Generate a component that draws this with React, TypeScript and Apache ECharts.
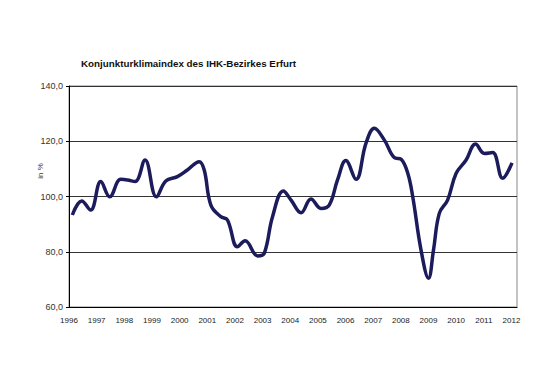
import React, { useEffect, useRef } from "react";
import * as echarts from "echarts";

const titleText = "Konjunkturklimaindex des IHK-Bezirkes Erfurt";
const yAxisName = "in %";
const times = [
  1996.12, 1996.46, 1996.78, 1997.15, 1997.47, 1997.87, 1998.11, 1998.39, 1998.75, 1999.16,
  1999.5, 1999.92, 2000.28, 2000.71, 2000.89, 2001.13, 2001.49, 2001.73, 2002.09, 2002.37,
  2002.82, 2003.06, 2003.36, 2003.75, 2004.03, 2004.39, 2004.75, 2005.11, 2005.41, 2005.71,
  2006.01, 2006.38, 2006.74, 2007.04, 2007.4, 2007.76, 2008.01, 2008.25, 2008.43, 2008.73,
  2009.0, 2009.18, 2009.39, 2009.69, 2010.0, 2010.36, 2010.7, 2011.02, 2011.32, 2011.68, 2012.02,
];
const values = [
  93.3, 98.4, 95.1, 105.4, 99.9, 106.2, 106.0, 105.4, 113.2, 99.9,
  105.6, 107.2, 109.6, 112.6, 109.6, 96.9, 92.7, 91.5, 81.8, 84.0,
  78.5, 79.4, 92.7, 102, 98.7, 94.1, 99.1, 95.7, 96.9, 106,
  113, 106.2, 119.3, 124.7, 120.5, 114.1, 113.5, 108.4, 99.9, 80.6,
  70.4, 80.6, 93.9, 98.7, 108.4, 113.2, 119, 115.6, 115.9, 106.6, 112.2,
];

export default function App() {
  const ref = useRef<HTMLDivElement>(null);
  useEffect(() => {
    if (!ref.current) return;
    const chart = echarts.init(ref.current, undefined, { renderer: "svg" });
    chart.setOption({
      animation: false,
      backgroundColor: "#ffffff",
      title: {
        text: titleText,
        left: 76,
        top: 53,
        textStyle: { fontFamily: "Liberation Sans", fontSize: 9.8, fontWeight: "bold", color: "#111" },
      },
      graphic: [
        {
          type: "text",
          x: 40,
          y: 171,
          rotation: Math.PI / 2,
          style: {
            text: yAxisName,
            fontFamily: "Liberation Sans",
            fontSize: 8,
            fill: "#333",
            textAlign: "center",
            textVerticalAlign: "middle",
          },
        },
      ],
      grid: {
        left: 69,
        right: 39,
        top: 86,
        bottom: 63,
        show: true,
        borderColor: "#888",
        borderWidth: 1,
      },
      xAxis: {
        type: "value",
        min: 1996,
        max: 2012.2,
        interval: 1,
        axisLine: { show: true, lineStyle: { color: "#000", width: 1 } },
        axisTick: { show: false },
        splitLine: { show: false },
        axisLabel: {
          margin: 9,
          fontFamily: "Liberation Sans",
          fontSize: 8,
          color: "#222",
          formatter: (v: number) => String(Math.round(v)),
        },
      },
      yAxis: {
        type: "value",
        min: 60,
        max: 140,
        interval: 20,
        axisLine: { show: true, lineStyle: { color: "#000", width: 1 } },
        axisTick: { show: true, length: 3, lineStyle: { color: "#000" } },
        splitLine: { show: true, lineStyle: { color: "#333", width: 1 } },
        axisLabel: {
          margin: 6,
          fontFamily: "Liberation Sans",
          fontSize: 9,
          color: "#333",
          formatter: (v: number) => v.toFixed(1).replace(".", ","),
        },
      },
      series: [
        {
          type: "line",
          data: times.map((t, i) => [t, values[i]]),
          smooth: 0.4,
          showSymbol: false,
          lineStyle: { color: "#1c1c5c", width: 3.5 },
        },
      ],
    });
    return () => chart.dispose();
  }, []);
  return (
    <div
      ref={ref}
      style={{ position: "fixed", left: 0, top: 0, width: 556, height: 370 }}
    />
  );
}
